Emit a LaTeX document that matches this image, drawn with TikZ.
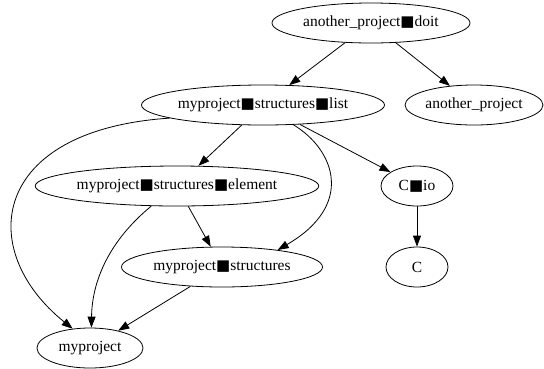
\documentclass[tikz,border=0pt]{standalone}
\usepackage{fontspec}
\setmainfont{Liberation Serif}
\newfontfamily\sqfont{DejaVu Sans}
\usetikzlibrary{shapes.geometric,arrows.meta}
\newcommand\blk{{\sqfont\fontsize{15}{18}\selectfont ■}}
\tikzset{
  gnode/.style={draw=black, ellipse, inner sep=0pt, minimum height=40pt, line width=0.8pt,
    font=\fontsize{15.5}{18}\selectfont},
  gedge/.style={draw=black, line width=0.8pt, -{Triangle[length=11pt,width=8pt]}}
}
\begin{document}
\begin{tikzpicture}[x=1pt,y=-1pt]
\useasboundingbox (0,0) rectangle (544,368);
\node[gnode, minimum width=198pt] (doit) at (371,23) {another\_project\blk doit};
\node[gnode, minimum width=243pt] (list) at (263,105) {myproject\blk structures\blk list};
\node[gnode, minimum width=138pt] (anp) at (474,105) {another\_project};
\node[gnode, minimum width=282pt] (elem) at (177,186) {myproject\blk structures\blk element};
\node[gnode, minimum width=72pt] (cio) at (417,186) {C\blk io};
\node[gnode, minimum width=201pt] (struct) at (222,267) {myproject\blk structures};
\node[gnode, minimum width=62pt] (C) at (417,267) {C};
\node[gnode, minimum width=106pt] (myp) at (90,348) {myproject};

\draw[gedge] (doit) -- (list);
\draw[gedge] (doit) -- (anp);
\draw[gedge] (list) -- (cio);
\draw[gedge] (list) -- (elem);
\draw[gedge] (list.-33) .. controls (335,150) and (355,205) .. (struct.17);
\draw[gedge] (list.188) .. controls (-10,130) and (-25,250) .. (myp.132);
\draw[gedge] (elem) -- (struct);
\draw[gedge] (elem.218) .. controls (110,240) and (92,280) .. (myp.86);
\draw[gedge] (struct) -- (myp);
\draw[gedge] (cio) -- (C);
\end{tikzpicture}
\end{document}
